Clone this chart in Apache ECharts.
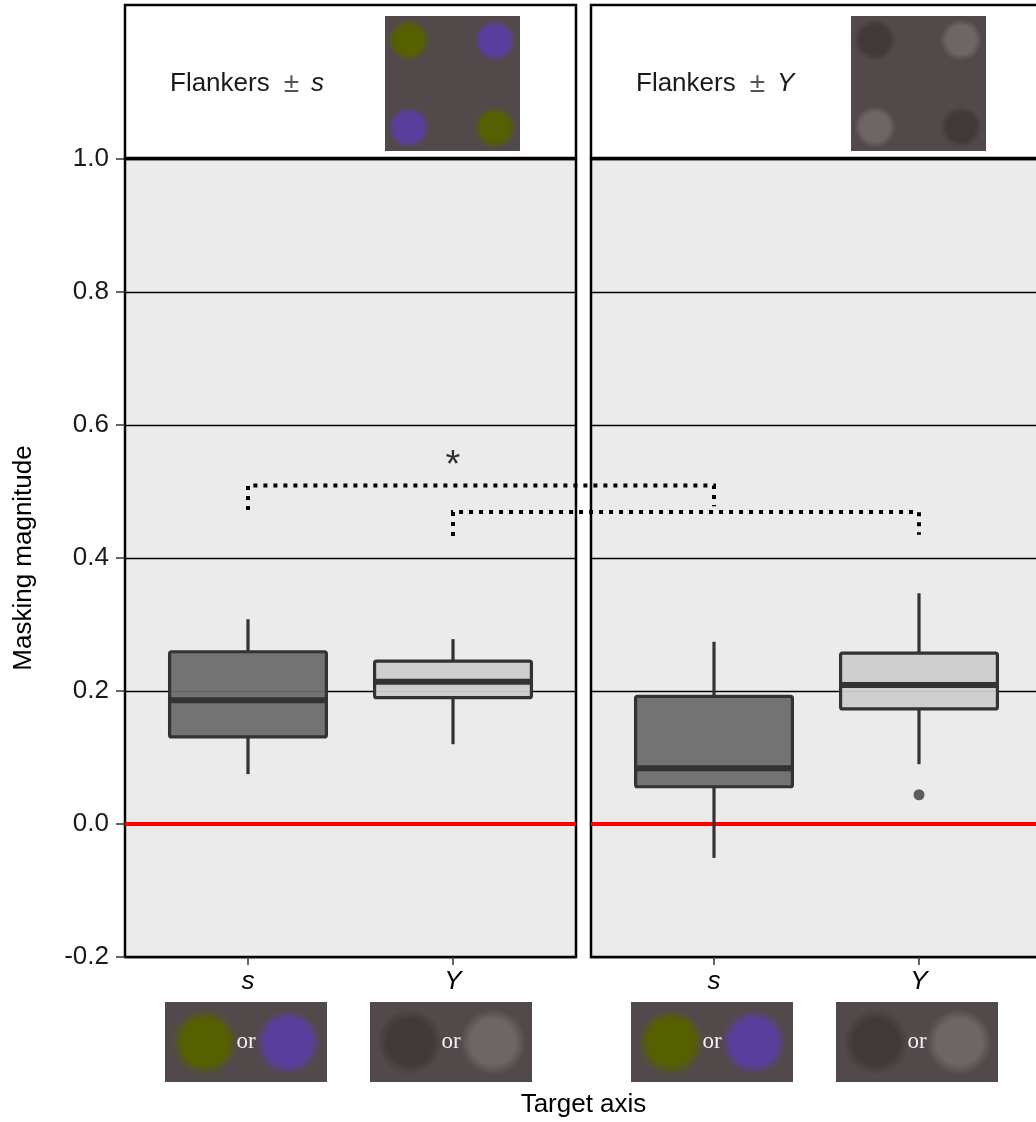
<!DOCTYPE html>
<html><head><meta charset="utf-8">
<script src="https://cdn.jsdelivr.net/npm/echarts@6/dist/echarts.min.js"></script>
<style>html,body{margin:0;padding:0;background:#fff}#c{width:1036px;height:1122px}</style>
</head><body><div id="c"></div>
<script>
// ---------- data ----------
const panelTitles = ['Flankers', 'Flankers'];
const panelAxis = ['s', 'Y'];
const categories = ['s', 'Y'];
// each box: [xIndex, min, Q1, median, Q3, max]
const flankersS = [[0, 0.075, 0.131, 0.186, 0.259, 0.308], [1, 0.120, 0.190, 0.214, 0.245, 0.278]];
const flankersY = [[0, -0.051, 0.056, 0.084, 0.192, 0.274], [1, 0.090, 0.173, 0.209, 0.257, 0.347]];
const outliersFlankersY = [[1, 0.044]];
const yMin = -0.2, yMax = 1.0, yStep = 0.2;
// brackets: category compared across panels, top y, left leg end, right leg end
const brackets = [
  { cat: 0, top: 0.509, leftEnd: 0.472, rightEnd: 0.478 },
  { cat: 1, top: 0.469, leftEnd: 0.433, rightEnd: 0.435 }
];
const star = [1, 0.543];

const boxFill = ['rgba(107,107,107,0.94)', 'rgba(205,205,205,0.94)'];
const FONT = 'Liberation Sans, Arial, sans-serif';

const gridLeft = [125, 591];
const gridW = 451, gridTop = 159, gridH = 798;

const chart = echarts.init(document.getElementById('c'), null, { renderer: 'canvas' });

function renderBox(params, api) {
  const x = api.value(0);
  const lo = api.coord([x, api.value(1)]);
  const q1 = api.coord([x, api.value(2)]);
  const med = api.coord([x, api.value(3)]);
  const q3 = api.coord([x, api.value(4)]);
  const hi = api.coord([x, api.value(5)]);
  const hw = api.size([0.765, 0])[0] / 2;
  const line = { stroke: '#333333', lineWidth: 3.2 };
  return {
    type: 'group',
    children: [
      { type: 'line', shape: { x1: lo[0], y1: lo[1], x2: q1[0], y2: q1[1] }, style: line },
      { type: 'line', shape: { x1: q3[0], y1: q3[1], x2: hi[0], y2: hi[1] }, style: line },
      { type: 'rect', shape: { x: q1[0] - hw, y: q3[1], width: hw * 2, height: q1[1] - q3[1], r: 2 },
        style: { fill: api.visual('color'), stroke: '#333333', lineWidth: 3.2 } },
      { type: 'line', shape: { x1: med[0] - hw, y1: med[1], x2: med[0] + hw, y2: med[1] },
        style: { stroke: '#333333', lineWidth: 6 } }
    ]
  };
}

function boxData(arr) {
  return arr.map(v => ({ value: v, itemStyle: { color: boxFill[v[0]] } }));
}

const grids = gridLeft.map(l => ({
  left: l, top: gridTop, width: gridW, height: gridH,
  show: true, backgroundColor: '#ebebeb', borderColor: '#000', borderWidth: 2.5,
  outerBoundsMode: 'none', containLabel: false
}));

const xAxes = [0, 1].map(i => ({
  type: 'value', gridIndex: i, min: -0.6, max: 1.6,
  splitLine: { show: false },
  axisLine: { show: false, onZero: false },
  axisTick: { show: true, customValues: [0, 1], length: 8, lineStyle: { color: '#333', width: 1.5 } },
  axisLabel: {
    customValues: [0, 1], formatter: v => categories[Math.round(v)],
    fontFamily: FONT, fontStyle: 'italic', fontSize: 26, color: '#000', margin: 12
  }
}));

const yAxes = [0, 1].map(i => ({
  type: 'value', gridIndex: i, min: yMin, max: yMax, interval: yStep,
  axisLine: { show: false, onZero: false },
  axisTick: { show: i === 0, length: 9, lineStyle: { color: '#333', width: 1.5 } },
  axisLabel: { show: i === 0, formatter: v => v.toFixed(1), fontFamily: FONT, fontSize: 26, color: '#1a1a1a', margin: 16 },
  splitLine: { show: true, lineStyle: { color: '#000', width: 1.3 } },
  name: i === 0 ? 'Masking magnitude' : '',
  nameLocation: 'middle', nameGap: 88, nameRotate: 90,
  nameTextStyle: { fontFamily: FONT, fontSize: 26, color: '#000' }
}));

const zeroLine = gi => ({
  type: 'line', xAxisIndex: gi, yAxisIndex: gi, data: [], z: 2, silent: true,
  markLine: {
    silent: true, symbol: ['none', 'none'], label: { show: false },
    lineStyle: { color: '#ff0000', width: 4, type: 'solid' },
    data: [{ yAxis: 0 }]
  }
});

chart.setOption({
  animation: false,
  grid: grids,
  xAxis: xAxes,
  yAxis: yAxes,
  series: [
    zeroLine(0), zeroLine(1),
    { type: 'custom', xAxisIndex: 0, yAxisIndex: 0, z: 5, renderItem: renderBox, data: boxData(flankersS), encode: { x: 0, y: [1, 2, 3, 4, 5] } },
    { type: 'custom', xAxisIndex: 1, yAxisIndex: 1, z: 5, renderItem: renderBox, data: boxData(flankersY), encode: { x: 0, y: [1, 2, 3, 4, 5] } },
    { type: 'scatter', xAxisIndex: 1, yAxisIndex: 1, z: 6, symbolSize: 11, itemStyle: { color: '#3a3a3a' }, data: outliersFlankersY },
    { type: 'scatter', xAxisIndex: 0, yAxisIndex: 0, z: 6, symbolSize: 0, data: [star],
      label: { show: true, position: 'inside', formatter: '*', fontFamily: FONT, fontSize: 38, color: '#000', offset: [0, 4] } }
  ]
});

// ---------- decorations (header strips, stimulus images, brackets) ----------
const g = [];
const px = (gi, p) => chart.convertToPixel({ xAxisIndex: gi, yAxisIndex: gi }, p);

const BG = '#524a4a';
const OLIVE = '#556000', PURPLE = '#5a3e9e', DARK = '#413939', LIGHT = '#6e6666';
function dot(cx, cy, r, c) {
  return { type: 'circle', shape: { cx, cy, r }, z: 21,
    style: { fill: { type: 'radial', x: 0.5, y: 0.5, r: 0.5,
      colorStops: [{ offset: 0, color: c }, { offset: 0.68, color: c }, { offset: 1, color: BG }] } } };
}
const headerDots = [[OLIVE, PURPLE, PURPLE, OLIVE], [DARK, LIGHT, LIGHT, DARK]];
for (let i = 0; i < 2; i++) {
  const l = gridLeft[i];
  g.push({ type: 'rect', shape: { x: l, y: 5, width: gridW, height: gridTop - 6 }, z: 19,
    style: { fill: '#fff', stroke: '#000', lineWidth: 2.5 } });
  g.push({ type: 'text', x: l + 45, y: 84, z: 22, style: {
    text: '{n|' + panelTitles[i] + '}{pm|±}{i|' + panelAxis[i] + '}',
    verticalAlign: 'middle', align: 'left',
    rich: {
      n: { fontFamily: FONT, fontSize: 26, fill: '#1a1a1a' },
      pm: { fontFamily: FONT, fontSize: 28, fill: '#555', padding: [0, 12, 0, 14] },
      i: { fontFamily: FONT, fontSize: 26, fontStyle: 'italic', fill: '#1a1a1a' }
    } } });
  const sx = l + 260, sy = 16;
  g.push({ type: 'rect', shape: { x: sx, y: sy, width: 135, height: 135 }, z: 20, style: { fill: BG } });
  const pos = [[24, 24], [110, 24], [24, 111], [110, 111]];
  pos.forEach((p, k) => g.push(dot(sx + p[0], sy + p[1], 21, headerDots[i][k])));
}
// bottom stimulus images under each tick
const bottomDots = [[OLIVE, PURPLE], [DARK, LIGHT]];
for (let i = 0; i < 2; i++) {
  for (let c = 0; c < 2; c++) {
    const cx = px(i, [c, 0])[0] - 2;
    const x0 = cx - 81, y0 = 1002;
    g.push({ type: 'rect', shape: { x: x0, y: y0, width: 162, height: 80 }, z: 20, style: { fill: BG } });
    g.push(dot(cx - 41, y0 + 40, 33, bottomDots[c][0]));
    g.push(dot(cx + 42, y0 + 40, 33, bottomDots[c][1]));
    g.push({ type: 'text', x: cx, y: y0 + 40, z: 22, style: {
      text: 'or', align: 'center', verticalAlign: 'middle',
      fontFamily: 'Liberation Serif, Times New Roman, serif', fontSize: 23, fill: '#f2f2f2' } });
  }
}
// x axis title centred over both panels
g.push({ type: 'text', x: (gridLeft[0] + gridLeft[1] + gridW) / 2, y: 1105, z: 22, style: {
  text: 'Target axis', align: 'center', verticalAlign: 'middle',
  fontFamily: FONT, fontSize: 26, fill: '#000' } });
// significance brackets between panels
brackets.forEach(b => {
  const a0 = px(0, [b.cat, b.leftEnd]);
  const a1 = px(0, [b.cat, b.top]);
  const b1 = px(1, [b.cat, b.top]);
  const b0 = px(1, [b.cat, b.rightEnd]);
  g.push({ type: 'polyline', z: 30, shape: { points: [a0, a1, b1, b0] },
    style: { stroke: '#000', lineWidth: 4, lineDash: [4, 6], fill: null } });
});

chart.setOption({ graphic: g });
</script>
</body></html>
